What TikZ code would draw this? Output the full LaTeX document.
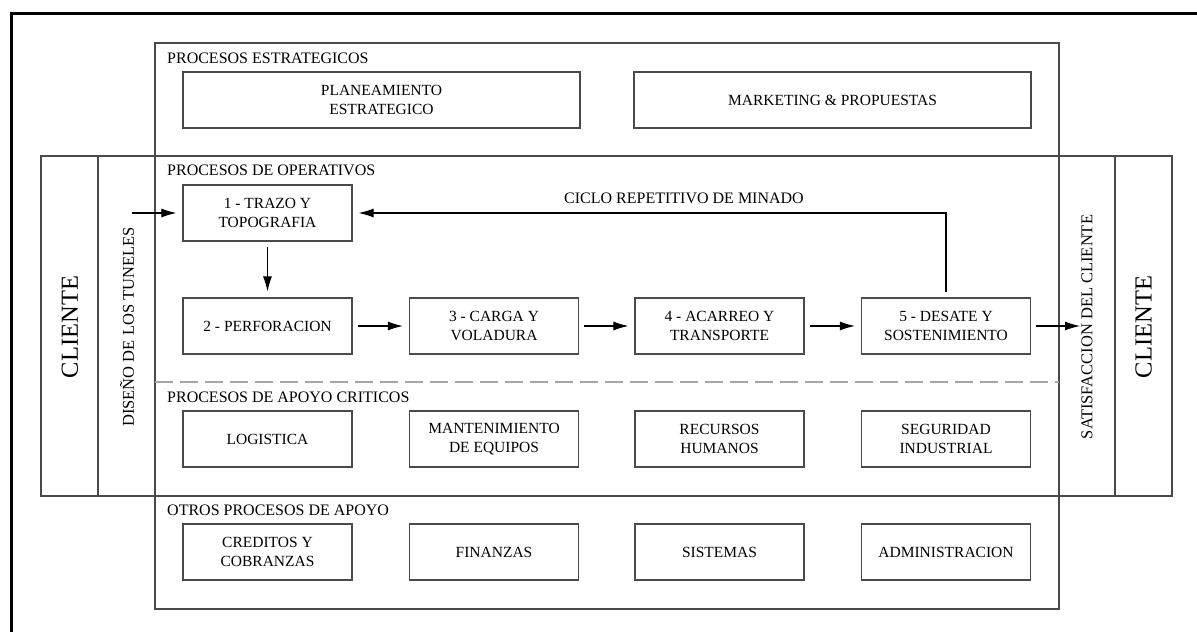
\documentclass[tikz,border=0pt]{standalone}
\usepackage{fontspec}
\setmainfont{Liberation Serif}
\usetikzlibrary{arrows.meta}
\definecolor{ln}{HTML}{4A4A4A}
\definecolor{tx}{HTML}{000000}
\tikzset{
 procbox/.style={draw=ln, line width=1.2pt, minimum width=169pt, minimum height=56pt, inner sep=0pt, align=center, font=\fontsize{15.5}{19}\selectfont, text=tx},
 widebox/.style={procbox, minimum width=397pt},
 ttl/.style={anchor=west, inner sep=0pt, font=\fontsize{16}{18}\selectfont, text=tx},
 frameline/.style={draw=ln, line width=1.1pt},
 flow/.style={draw=black, line width=1.1pt, -{Latex[length=15pt,width=9pt]}, shorten <=5pt, shorten >=6pt},
 vtext/.style={rotate=90, inner sep=0pt, text=tx, font=\fontsize{16.5}{18}\selectfont},
 bigv/.style={rotate=90, inner sep=0pt, text=tx, font=\fontsize{24.5}{26}\selectfont},
}
\begin{document}
\begin{tikzpicture}[x=1pt,y=-1pt]
\useasboundingbox (0,0) rectangle (1197,632);
\fill[white] (0,0) rectangle (1197,632);
% outer frame (cropped)
\draw[black, line width=3pt] (1197,13) -- (11.5,13) -- (11.5,632);
% big process box
\draw[frameline] (155,43) rectangle (1059,609);
% operative band
\draw[frameline] (41,156) rectangle (1172,496);
\draw[frameline] (98,156) -- (98,496);
\draw[frameline] (1115,156) -- (1115,496);
% dashed separator
\draw[draw=gray!70, line width=1.1pt, dash pattern=on 18pt off 7pt] (155,382) -- (1059,382);
% titles
\node[ttl] (t1) at (167,58) {PROCESOS ESTRATEGICOS};
\node[ttl] (t2) at (167,170) {PROCESOS DE OPERATIVOS};
\node[ttl] (t3) at (167,397) {PROCESOS DE APOYO CRITICOS};
\node[ttl] (t4) at (167,510) {OTROS PROCESOS DE APOYO};
% side texts
\node[bigv] (cl1) at (70,327) {CLIENTE};
\node[vtext] (dis) at (127,327) {DISEÑO DE LOS TUNELES};
\node[vtext] (sat) at (1087,327) {SATISFACCION DEL CLIENTE};
\node[bigv] (cl2) at (1143.5,327) {CLIENTE};
% strategic
\node[widebox] (plan) at (381.5,100) {PLANEAMIENTO\\ESTRATEGICO};
\node[widebox] (mkt) at (832.5,100) {MARKETING \& PROPUESTAS};
% operative
\node[procbox] (b1) at (267.5,213) {1 - TRAZO Y\\TOPOGRAFIA};
\node[procbox] (b2) at (267.5,326) {2 - PERFORACION};
\node[procbox] (b3) at (494,326) {3 - CARGA Y\\VOLADURA};
\node[procbox] (b4) at (719.5,326) {4 - ACARREO Y\\TRANSPORTE};
\node[procbox] (b5) at (946,326) {5 - DESATE Y\\SOSTENIMIENTO};
% support critical
\node[procbox] (c1) at (267.5,439) {LOGISTICA};
\node[procbox] (c2) at (494,439) {MANTENIMIENTO\\DE EQUIPOS};
\node[procbox] (c3) at (719.5,439) {RECURSOS\\HUMANOS};
\node[procbox] (c4) at (946,439) {SEGURIDAD\\INDUSTRIAL};
% other support
\node[procbox] (o1) at (267.5,552) {CREDITOS Y\\COBRANZAS};
\node[procbox] (o2) at (494,552) {FINANZAS};
\node[procbox] (o3) at (719.5,552) {SISTEMAS};
\node[procbox] (o4) at (946,552) {ADMINISTRACION};
% cycle label
\node[inner sep=0pt, text=tx, font=\fontsize{16}{18}\selectfont] (cyc) at (684,198) {CICLO REPETITIVO DE MINADO};
% connectors
\coordinate (in) at (132,213);
\coordinate (out) at (1080,326);
\draw[flow, shorten <=0pt] (in) -- (b1.west);
\draw[flow] (b1.south) -- (b2.north);
\draw[flow] (b2.east) -- (b3.west);
\draw[flow] (b3.east) -- (b4.west);
\draw[flow] (b4.east) -- (b5.west);
\draw[flow, shorten >=0pt] (b5.east) -- (out);
\draw[flow] (b5.north) |- (b1.east);
\end{tikzpicture}
\end{document}
